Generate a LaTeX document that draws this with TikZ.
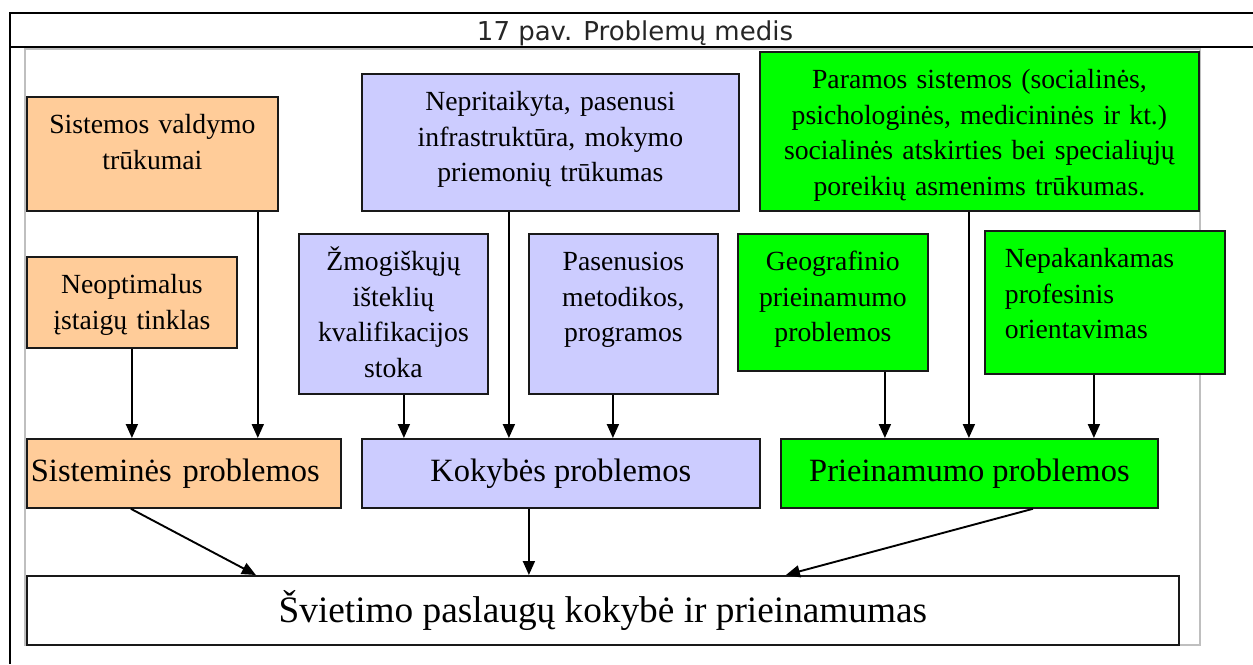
\documentclass[tikz,border=0pt]{standalone}
\usepackage{fontspec}
\setmainfont{Liberation Serif}
\newfontfamily\captionfont{DejaVu Sans}
\usetikzlibrary{arrows.meta,positioning}

\definecolor{sysfill}{HTML}{FFCC99}
\definecolor{qualfill}{HTML}{CCCCFF}
\definecolor{accfill}{HTML}{00FF00}

\begin{document}
\begin{tikzpicture}[%
					x=1pt, y=-1pt,
					box/.style={%
						draw=black!90,
						line width=1.8pt,
						inner xsep=0pt,
						inner ysep=0pt,
						anchor=north west,
						align=center,
						font=\fontsize{27.7}{35.4}\selectfont,
						text height=37pt
					},
					problem/.style={%
						draw=black!90,
						line width=1.8pt,
						inner sep=0pt,
						anchor=north west,
						minimum height=69pt,
						font=\fontsize{32.5}{38}\selectfont
					},
					link/.style={%
						-{Triangle[length=14pt,width=12pt]},
						line width=1.9pt
					}
				]

				\useasboundingbox (0,0) rectangle (1253,664);

				% table frame and caption
				\draw[line width=2.5pt] (9,13) -- (1253,13);
				\draw[line width=2.5pt] (9,47) -- (1253,47);
				\draw[line width=2.5pt] (10,12) -- (10,664);
				\node[font=\captionfont\fontsize{26}{30}\selectfont, text=black!85, anchor=base] (caption) at (635,40) {17 pav. Problemų medis};
				\draw[black!25, line width=1.2pt] (25,49) rectangle (1200,645);

				% causes
				\node[box, fill=sysfill, text width=251pt, text depth=77pt] (valdymo) at (26,96) {Sistemos valdymo\\trūkumai};
				\node[box, fill=sysfill, text width=210pt, text depth=54pt] (neopt) at (26,256) {Neoptimalus\\įstaigų tinklas};

				\node[box, fill=qualfill, text width=377pt, text depth=100pt] (nepr) at (361,73) {Nepritaikyta, pasenusi\\infrastruktūra, mokymo\\priemonių trūkumas};
				\node[box, fill=qualfill, text width=189pt, text depth=123pt] (zmog) at (298,233) {Žmogiškųjų\\išteklių\\kvalifikacijos\\stoka};
				\node[box, fill=qualfill, text width=189pt, text depth=123pt] (pasen) at (528,233) {Pasenusios\\metodikos,\\programos};

				\node[box, fill=accfill, text width=439pt, text depth=122pt] (paramos) at (759,51) {Paramos sistemos (socialinės,\\psichologinės, medicininės ir kt.)\\socialinės atskirties bei specialiųjų\\poreikių asmenims trūkumas.};
				\node[box, fill=accfill, text width=190pt, text depth=100pt] (geo) at (737,233) {Geografinio\\prieinamumo\\problemos};
				\node[box, fill=accfill, text width=200pt, inner xsep=20pt, align=left, text depth=106pt] (nepak) at (984,230) {Nepakankamas\\profesinis\\orientavimas};

				% problems
				\node[problem, fill=sysfill, text width=306pt, inner xsep=4pt, align=left] (sist) at (26,438) {Sisteminės problemos};
				\node[problem, fill=qualfill, minimum width=398pt] (kok) at (361,438) {Kokybės problemos};
				\node[problem, fill=accfill, minimum width=377pt] (prie) at (780,438) {Prieinamumo problemos};

				\node[problem, fill=white, minimum width=1152pt, font=\fontsize{37.3}{42}\selectfont] (svietimo) at (26,575) {Švietimo paslaugų kokybė ir prieinamumas};

				% arrows
				\draw[link] (neopt.south) -- (neopt.south |- sist.north);
				\draw[link] ([xshift=-21pt]valdymo.south east) -- ([xshift=-21pt]valdymo.south east |- sist.north);
				\draw[link] ([xshift=10.5pt]zmog.south) -- ([xshift=10.5pt]zmog.south |- kok.north);
				\draw[link] ([xshift=-41.5pt]nepr.south) -- ([xshift=-41.5pt]nepr.south |- kok.north);
				\draw[link] ([xshift=-10.5pt]pasen.south) -- ([xshift=-10.5pt]pasen.south |- kok.north);
				\draw[link] ([xshift=52pt]geo.south) -- ([xshift=52pt]geo.south |- prie.north);
				\draw[link] ([xshift=-10.5pt]paramos.south) -- ([xshift=-10.5pt]paramos.south |- prie.north);
				\draw[link] ([xshift=-11pt]nepak.south) -- ([xshift=-11pt]nepak.south |- prie.north);

				\draw[link] ([xshift=-53pt]sist.south) -- ([xshift=-347pt]svietimo.north);
				\draw[link] ([xshift=-32pt]kok.south) -- ([xshift=-74pt]svietimo.north);
				\draw[link] ([xshift=63.5pt]prie.south) -- ([xshift=183pt]svietimo.north);
			\end{tikzpicture}
\end{document}
